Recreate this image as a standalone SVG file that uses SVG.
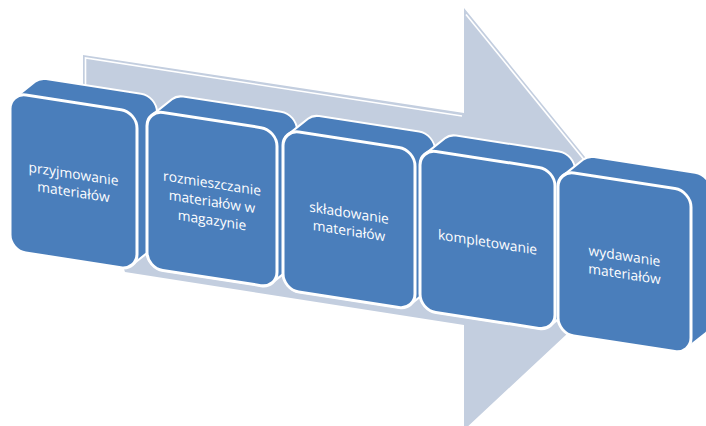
<svg xmlns="http://www.w3.org/2000/svg" width="706" height="426" viewBox="0 0 706 426">
<style>
.arrow{fill:#c3cedf;stroke:none}
.hl{fill:none;stroke:#ffffff;stroke-width:1.6}
.side{fill:#4a7ebb;stroke:#ffffff;stroke-width:2;stroke-linejoin:round}
.front{fill:#4a7ebb;stroke:#ffffff;stroke-width:3}
.lbl{font-family:"Open Sans","Liberation Sans",sans-serif;font-size:13.8px;fill:#ffffff;text-anchor:middle}
</style>
<rect width="706" height="426" fill="#ffffff"/>
<g id="connectors">
  <path class="arrow" d="M83,55 L464,113 L464,8 L659,248 L464,430 L464,325 L125,272 L83,150 Z"/>
  <polyline class="hl" points="85.5,90 85.5,58 462,116"/>
  <line class="hl" x1="466" y1="14.5" x2="650" y2="240.7"/>
</g>
<g id="node1" transform="translate(10,92.5) skewY(8.8)">
  <path class="side" d="M4.98 4.4 L24.98 -14.6 A16 16 0 0 1 36 -19 L131 -19 A16 16 0 0 1 147 -3 L147 123 A16 16 0 0 1 142.02 134.6 L122.02 153.6 A16 16 0 0 1 111 158 L16 158 A16 16 0 0 1 0 142 L0 16 A16 16 0 0 1 4.98 4.4 Z"/>
  <rect class="front" x="0" y="0" width="127" height="158" rx="16" ry="16"/>
  <text class="lbl" x="63.5" y="76.5">przyjmowanie</text>
  <text class="lbl" x="63.5" y="94.5">materiałów</text>
</g>
<g id="node2" transform="translate(147,110) skewY(8.8)">
  <path class="side" d="M4.98 4.4 L24.98 -14.6 A16 16 0 0 1 36 -19 L134 -19 A16 16 0 0 1 150 -3 L150 123 A16 16 0 0 1 145.02 134.6 L125.02 153.6 A16 16 0 0 1 114 158 L16 158 A16 16 0 0 1 0 142 L0 16 A16 16 0 0 1 4.98 4.4 Z"/>
  <rect class="front" x="0" y="0" width="130" height="158" rx="16" ry="16"/>
  <text class="lbl" x="65" y="68">rozmieszczanie</text>
  <text class="lbl" x="65" y="86.5">materiałów w</text>
  <text class="lbl" x="65" y="105">magazynie</text>
</g>
<g id="node3" transform="translate(283,129.5) skewY(8.8)">
  <path class="side" d="M4.98 4.4 L24.98 -14.6 A16 16 0 0 1 36 -19 L136 -19 A16 16 0 0 1 152 -3 L152 125 A16 16 0 0 1 147.02 136.6 L127.02 155.6 A16 16 0 0 1 116 160 L16 160 A16 16 0 0 1 0 144 L0 16 A16 16 0 0 1 4.98 4.4 Z"/>
  <rect class="front" x="0" y="0" width="132" height="160" rx="16" ry="16"/>
  <text class="lbl" x="66" y="78">składowanie</text>
  <text class="lbl" x="66" y="96">materiałów</text>
</g>
<g id="node4" transform="translate(420,149) skewY(8.8)">
  <path class="side" d="M4.98 4.4 L24.98 -14.6 A16 16 0 0 1 36 -19 L139 -19 A16 16 0 0 1 155 -3 L155 126 A16 16 0 0 1 150.02 137.6 L130.02 156.6 A16 16 0 0 1 119 161 L16 161 A16 16 0 0 1 0 145 L0 16 A16 16 0 0 1 4.98 4.4 Z"/>
  <rect class="front" x="0" y="0" width="135" height="161" rx="16" ry="16"/>
  <text class="lbl" x="67.5" y="87.5">kompletowanie</text>
</g>
<g id="node5" transform="translate(558,170.5) skewY(8.8)">
  <path class="side" d="M4.98 4.4 L24.98 -14.6 A16 16 0 0 1 36 -19 L137 -19 A16 16 0 0 1 153 -3 L153 128 A16 16 0 0 1 148.02 139.6 L128.02 158.6 A16 16 0 0 1 117 163 L16 163 A16 16 0 0 1 0 147 L0 16 A16 16 0 0 1 4.98 4.4 Z"/>
  <rect class="front" x="0" y="0" width="133" height="163" rx="16" ry="16"/>
  <text class="lbl" x="66.5" y="80">wydawanie</text>
  <text class="lbl" x="66.5" y="98">materiałów</text>
</g>
</svg>
